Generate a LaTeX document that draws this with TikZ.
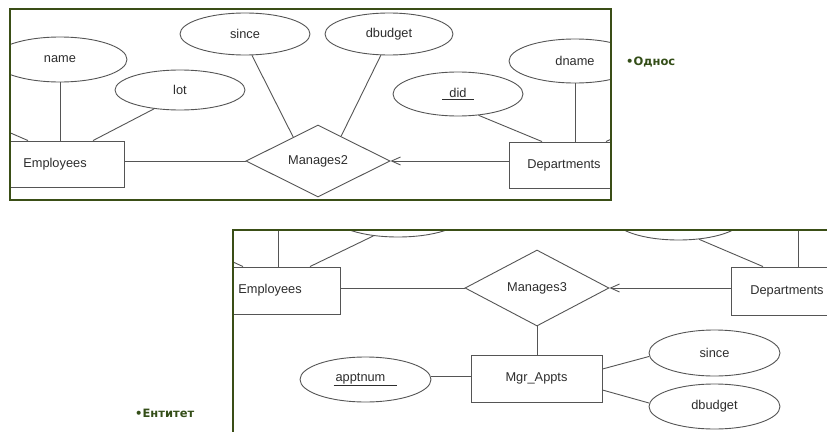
\documentclass[tikz,border=0pt]{standalone}
\usepackage{fontspec}
\setmainfont{Liberation Sans}
\newfontfamily\capfont{DejaVu Sans}
\usetikzlibrary{shapes.geometric,arrows.meta}
\definecolor{framegreen}{RGB}{58,78,22}
\definecolor{labelgreen}{RGB}{52,78,24}
\definecolor{ink}{RGB}{85,85,85}
\definecolor{txt}{RGB}{45,45,45}
\begin{document}
\begin{tikzpicture}[x=1pt,y=-1pt,
  every node/.style={font=\fontsize{12.8}{15}\selectfont, text=txt},
  entity/.style={draw=ink, line width=0.9pt, rectangle, inner sep=0pt},
  attr/.style={draw=ink, line width=0.9pt, ellipse, inner sep=0pt,
               minimum width=130pt, minimum height=44pt},
  rel/.style={draw=ink, line width=0.9pt, diamond, aspect=2, inner sep=0pt,
              minimum width=144pt, minimum height=72pt},
  link/.style={draw=ink, line width=0.9pt},
  onearrow/.style={link, -{Straight Barb[length=9pt,width=8pt]}},
  panel/.style={draw=framegreen, line width=1.2pt},
  caption/.style={font=\capfont\bfseries\fontsize{11.5}{14}\selectfont,
                  text=labelgreen, anchor=west, inner sep=0pt}
]
\useasboundingbox (0,0) rectangle (827,431);
\fill[white] (0,0) rectangle (827,431);

% ---------- Manages2: relationship with descriptive attributes ----------
\begin{scope}
  \clip (10,9) rectangle (611,200);
  \node[attr, minimum width=134pt, minimum height=45pt] (name) at (60,59.5) {name};
  \node[attr, minimum height=40pt] (lot) at (180,90) {lot};
  \node[attr, minimum height=42pt] (since) at (245,34) {since};
  \node[attr, minimum width=128pt, minimum height=42pt] (dbudget) at (389,34) {dbudget};
  \node[attr] (did) at (458,94) {\underline{\hspace{7pt}did\hspace{7pt}}};
  \node[attr, minimum width=132pt] (dname) at (575,61) {dname};
  \node[entity, minimum width=138pt, minimum height=46pt] (emp) at (55,164) {Employees};
  \node[rel] (m2) at (318,161) {Manages2};
  \node[entity, minimum width=110pt, minimum height=46pt] (dep) at (564,165) {Departments};
  \coordinate (lft) at (-12,123.2);
  \coordinate (rgt) at (622,134);

  \draw[link] (name.south) -- (name.south |- emp.north);
  \draw[link] (lft) -- ([xshift=-27pt]emp.north);
  \draw[link] (lot.216) -- ([xshift=38pt]emp.north);
  \draw[link] (m2.west -| emp.east) -- (m2.west);
  \draw[link] (since.288) -- (m2.136);
  \draw[link] (dbudget.249) -- (m2.47);
  \draw[link] (did.314) -- ([xshift=-22pt]dep.north);
  \draw[link] (dname.south) -- (dname.south |- dep.north);
  \draw[link] (rgt) -- ([xshift=42pt]dep.north);
  \draw[onearrow] (m2.east -| dep.west) -- (m2.east);
\end{scope}
\draw[panel] (10,9) rectangle (611,200);

% ---------- Manages3 with the Mgr_Appts entity ----------
\begin{scope}
  \clip (233,230) rectangle (840,440);
  \node[attr, minimum height=42pt] (lot2) at (398,216) {};
  \node[attr] (did2) at (678.5,218) {};
  \node[entity, minimum width=141pt, minimum height=47pt] (emp2) at (270,290.5) {Employees};
  \node[rel, minimum height=76pt] (m3) at (537,288) {Manages3};
  \node[entity, minimum width=112pt, minimum height=48pt] (dep2) at (787,291) {Departments};
  \node[entity, minimum width=131pt, minimum height=47pt] (mgr) at (536.5,378.5) {Mgr\_Appts};
  \node[attr, minimum width=131pt, minimum height=45pt] (appt) at (365.5,379.5)
       {\underline{\hspace{2pt}apptnum\hspace{12pt}}};
  \node[attr, minimum width=131pt, minimum height=46pt] (since2) at (714.5,353) {since};
  \node[attr, minimum width=131pt, minimum height=45pt] (dbudget2) at (714.5,406.5) {dbudget};
  \coordinate (nm2) at (278,222);
  \coordinate (lft2) at (205,249.1);
  \coordinate (dn2) at (798,222);

  \draw[link] (nm2) -- (nm2 |- emp2.north);
  \draw[link] (lft2) -- ([xshift=-27pt]emp2.north);
  \draw[link] (lot2.219) -- ([xshift=40pt]emp2.north);
  \draw[link] (m3.west -| emp2.east) -- (m3.west);
  \draw[onearrow] (m3.east -| dep2.west) -- (m3.east);
  \draw[link] (did2.314) -- ([xshift=-24pt]dep2.north);
  \draw[link] (dn2) -- (dn2 |- dep2.north);
  \draw[link] (m3.south) -- (m3.south |- mgr.north);
  \draw[link] (appt.3) -- (appt.3 -| mgr.west);
  \draw[link] ([yshift=9.5pt]mgr.east) -- (since2.183);
  \draw[link] ([yshift=-11.5pt]mgr.east) -- (dbudget2.177);
\end{scope}
\draw[panel] (840,230) -- (233,230) -- (233,440);

% ---------- captions ----------
\node[caption] (relcap) at (626,62) {•Однос};
\node[caption] (entcap) at (135,413) {•Ентитет};
\end{tikzpicture}
\end{document}
